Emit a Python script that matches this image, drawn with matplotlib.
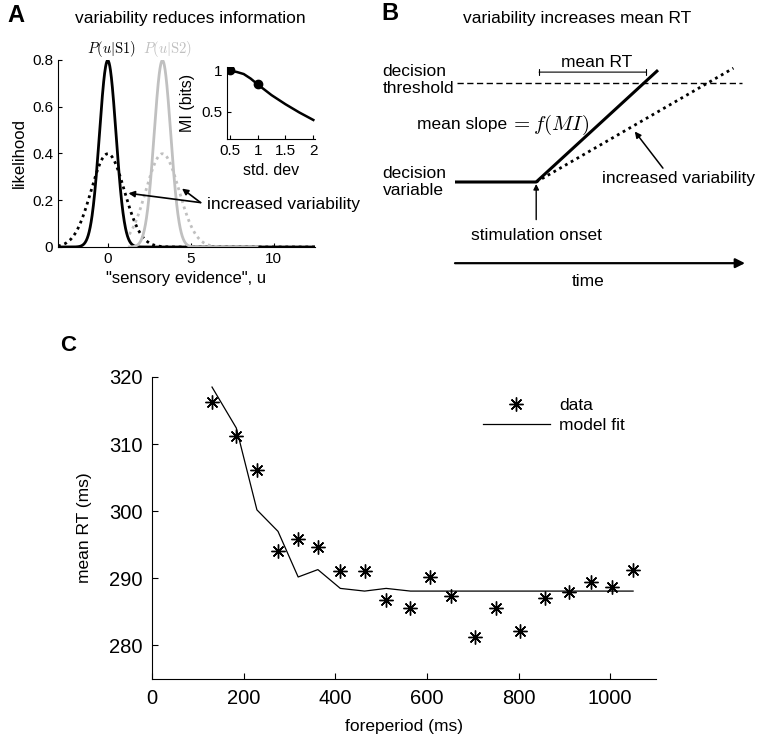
import numpy as np
import matplotlib
matplotlib.use('Agg')
import matplotlib.pyplot as plt

plt.rcParams['font.family'] = ['Liberation Sans', 'DejaVu Sans']
plt.rcParams['mathtext.fontset'] = 'cm'

# ---- panel A: likelihoods (gaussian parameters) ----
stim_means = [0.0, 3.3]          # S1, S2
sd_low = 0.5                     # solid curves
sd_high = 1.0                    # dotted curves (increased variability)

# inset: MI vs std. dev
inset_sd = [0.45, 0.5, 0.625, 0.75, 0.875, 1.0, 1.25, 1.5, 1.75, 2.0]
inset_mi = [1.0, 0.995, 0.98, 0.955, 0.90, 0.83, 0.70, 0.59, 0.49, 0.40]
inset_marks_sd = [0.5, 1.0]
inset_marks_mi = [1.0, 0.83]

# ---- panel B: schematic accumulator ----
onset_t = 2.8
threshold = 1.0
solid_t = [0.0, 2.8, 7.0]
solid_v = [0.0, 0.0, 1.13]
dotted_t = [2.8, 9.6]
dotted_v = [0.0, 1.15]

# ---- panel C: foreperiod data ----
foreperiod = [131, 184, 229, 275, 319, 362, 411, 464, 511, 564,
              606, 653, 705, 751, 804, 857, 910, 958, 1005, 1050]
rt_data = [316.3, 311.2, 306.2, 294.1, 295.8, 294.6, 291.1, 291.1, 286.8, 285.6,
           290.2, 287.4, 281.2, 285.6, 282.2, 287.1, 288.0, 289.5, 288.7, 291.3]
rt_model = [318.5, 312.4, 300.2, 297.0, 290.2, 291.3, 288.5, 288.1, 288.5, 288.1,
            288.1, 288.1, 288.1, 288.1, 288.1, 288.1, 288.1, 288.1, 288.1, 288.1]

W, H = 759, 741
fig = plt.figure(figsize=(W / 100, H / 100), dpi=100)


def rect(x0, y0, x1, y1):
    # pixel box -> figure fraction
    return [x0 / W, 1 - y1 / H, (x1 - x0) / W, (y1 - y0) / H]


def gauss(u, m, s):
    return np.exp(-(u - m) ** 2 / (2 * s ** 2)) / (s * np.sqrt(2 * np.pi))


grey = '#c0c0c0'
dots = (0, (1, 1.4))

# ================= A =================
axA = fig.add_axes(rect(58, 60, 315, 247))
u1 = np.linspace(-3, 12.5, 800)
u2 = np.linspace(1.3, 9.0, 500)
axA.plot(u1, gauss(u1, stim_means[0], sd_high), color='black', lw=2, ls=dots)
axA.plot(u1, gauss(u1, stim_means[0], sd_low), color='black', lw=2)
axA.plot(u2, gauss(u2, stim_means[1], sd_high), color=grey, lw=2, ls=dots)
axA.plot(u2, gauss(u2, stim_means[1], sd_low), color=grey, lw=2)
axA.set_xlim(-3, 12.5)
axA.set_ylim(0, 0.8)
axA.set_xticks([0, 5, 10])
axA.set_yticks([0, 0.2, 0.4, 0.6, 0.8])
axA.set_yticklabels(['0', '0.2', '0.4', '0.6', '0.8'])
axA.spines[['top', 'right']].set_visible(False)
axA.tick_params(direction='in', labelsize=11, length=3)
axA.set_xlabel('"sensory evidence", u', fontsize=12)
axA.set_ylabel('likelihood', fontsize=12)
axA.text(0.22, 0.845, r'$P(u|\mathrm{S1})$', ha='center', va='center',
         fontsize=10.5, clip_on=False)
axA.text(3.58, 0.845, r'$P(u|\mathrm{S2})$', ha='center', va='center',
         fontsize=10.5, color=grey, clip_on=False)
axA.text(5.98, 0.18, 'increased variability', ha='left', va='center',
         fontsize=12.5, clip_on=False)
for hx, hy in [(1.25, 0.23), (4.48, 0.25)]:
    axA.annotate('', xy=(hx, hy), xytext=(5.6, 0.19),
                 arrowprops=dict(arrowstyle='-|>', color='black', lw=1.2,
                                 mutation_scale=9, shrinkA=0, shrinkB=0))

ins = fig.add_axes(rect(227, 67, 315, 139))
ins.plot(inset_sd, inset_mi, color='black', lw=1.8)
ins.plot(inset_marks_sd, inset_marks_mi, 'o', color='black', ms=6)
ins.set_xlim(0.45, 2.03)
ins.set_ylim(0.17, 1.04)
ins.set_xticks([0.5, 1, 1.5, 2])
ins.set_xticklabels(['0.5', '1', '1.5', '2'])
ins.set_yticks([0.5, 1])
ins.set_yticklabels(['0.5', '1'])
ins.spines[['top', 'right']].set_visible(False)
ins.tick_params(direction='in', labelsize=11, length=3)
ins.set_xlabel('std. dev', fontsize=11.5)
ins.set_ylabel('MI (bits)', fontsize=11.5)

fig.text(16 / W, 1 - 15 / H, 'A', fontsize=17, fontweight='bold', ha='center', va='center')
fig.text(190 / W, 1 - 18 / H, 'variability reduces information', fontsize=12.5,
         ha='center', va='center')

# ================= B =================
axB = fig.add_axes(rect(380, 0, 759, 300))
axB.set_xlim((380 - 455) / 29, (759 - 455) / 29)
axB.set_ylim((182 - 300) / 99, 182 / 99)
axB.axis('off')
axB.plot([0.07, 9.9], [threshold, threshold], color='black', lw=1, ls=(0, (4.5, 2.5)))
axB.plot(dotted_t, dotted_v, color='black', lw=2, ls=dots)
axB.plot(solid_t, solid_v, color='black', lw=2.2, solid_capstyle='butt')
axB.annotate('', xy=(2.9, 1.11), xytext=(6.6, 1.11),
             arrowprops=dict(arrowstyle='|-|, widthA=0.2, widthB=0.2', lw=0.8,
                             shrinkA=0, shrinkB=0))
axB.text(4.9, 1.21, 'mean RT', ha='center', va='center', fontsize=12.5)
axB.text(-2.5, 1.03, 'decision\nthreshold', ha='left', va='center', fontsize=12.5,
         linespacing=1.15)
axB.text(-1.31, 0.58, 'mean slope', ha='left', va='center', fontsize=12.5)
axB.text(1.9, 0.58, r'$=f(MI)$', ha='left', va='center', fontsize=15)
axB.text(-2.5, 0.0, 'decision\nvariable', ha='left', va='center', fontsize=12.5,
         linespacing=1.15)
axB.annotate('', xy=(onset_t, -0.02), xytext=(onset_t, -0.38),
             arrowprops=dict(arrowstyle='-|>', color='black', lw=1,
                             mutation_scale=8, shrinkA=0, shrinkB=0))
axB.text(onset_t, -0.54, 'stimulation onset', ha='center', va='center', fontsize=12.5)
axB.text(5.07, 0.04, 'increased variability', ha='left', va='center', fontsize=12.5)
axB.annotate('', xy=(6.2, 0.51), xytext=(7.17, 0.14),
             arrowprops=dict(arrowstyle='-|>', color='black', lw=1.1,
                             mutation_scale=9, shrinkA=0, shrinkB=0))
axB.annotate('', xy=(10, -0.82), xytext=(0, -0.82),
             arrowprops=dict(arrowstyle='-|>', color='black', lw=1.6,
                             mutation_scale=14, shrinkA=0, shrinkB=0))
axB.text(4.6, -1.01, 'time', ha='center', va='center', fontsize=12.5)

fig.text(390 / W, 1 - 14 / H, 'B', fontsize=17, fontweight='bold', ha='center', va='center')
fig.text(577 / W, 1 - 18 / H, 'variability increases mean RT', fontsize=12.5,
         ha='center', va='center')

# ================= C =================
axC = fig.add_axes(rect(152, 377, 656, 679))
axC.plot(foreperiod, rt_model, color='black', lw=0.9, label='model fit')
axC.plot(foreperiod, rt_data, ls='none', marker=(8, 2, 0), ms=10, mew=1,
         color='black', label='data')
axC.set_xlim(0, 1100)
axC.set_ylim(275, 320)
axC.set_xticks([0, 200, 400, 600, 800, 1000])
axC.set_yticks([280, 290, 300, 310, 320])
axC.spines[['top', 'right']].set_visible(False)
axC.tick_params(direction='in', labelsize=14.5, length=4, pad=7)
axC.set_xlabel('foreperiod (ms)', fontsize=12.5, labelpad=8)
axC.set_ylabel('mean RT (ms)', fontsize=12.5, labelpad=12)
h, l = axC.get_legend_handles_labels()
axC.legend(h[::-1], l[::-1], loc='upper left', bbox_to_anchor=(0.656, 0.93),
           frameon=False, fontsize=12.5, handlelength=3.9, handletextpad=0.5,
           labelspacing=0.25, borderpad=0, borderaxespad=0)
fig.text(68 / W, 1 - 345 / H, 'C', fontsize=16, fontweight='bold', ha='center', va='center')

fig.savefig('out.png', dpi=100)
